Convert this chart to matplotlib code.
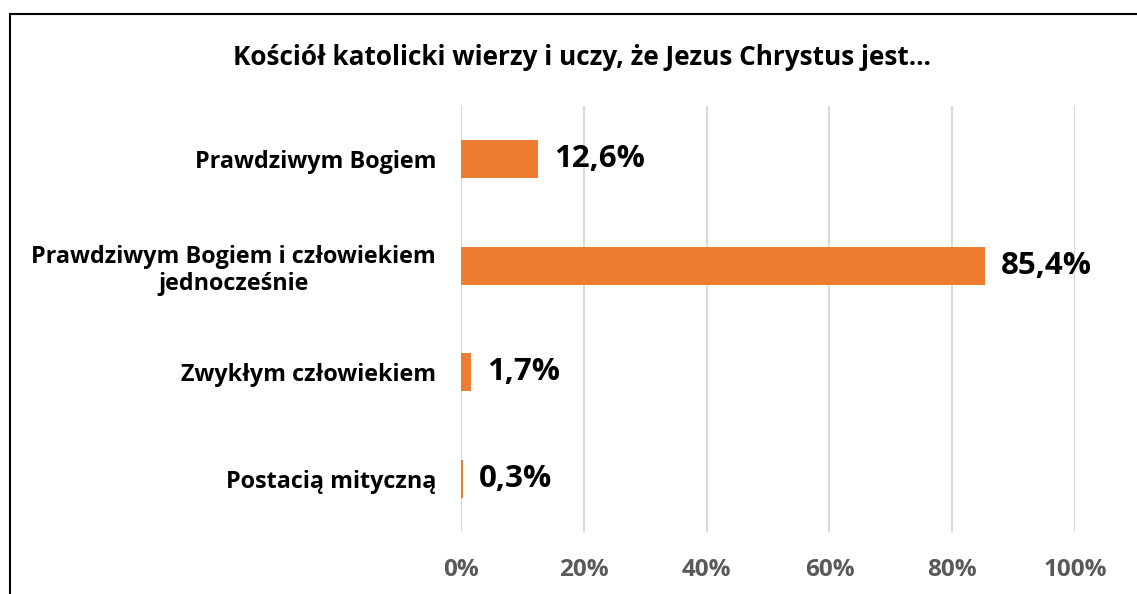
import matplotlib.pyplot as plt
from matplotlib.lines import Line2D

plt.rcParams['font.family'] = ['Open Sans', 'DejaVu Sans']

# data
categories = ['Prawdziwym Bogiem', 'Prawdziwym Bogiem i człowiekiem\njednocześnie',
              'Zwykłym człowiekiem', 'Postacią mityczną']
values = [12.6, 85.4, 1.7, 0.3]
xticks = [0, 20, 40, 60, 80, 100]
title = 'Kościół katolicki wierzy i uczy, że Jezus Chrystus jest…'

fig = plt.figure(figsize=(11.37, 5.94), dpi=100)
ax = fig.add_axes([0.4055, 0.1044, 0.540, 0.717])

y = list(range(len(categories)))
ax.barh(y, values, height=0.36, color='#ED7D31', zorder=3)
ax.set_ylim(len(categories) - 0.5, -0.5)
ax.set_xlim(0, 100)

for yi, v in zip(y, values):
    ax.text(v + 2.6, yi, f'{v:.1f}%'.replace('.', ','), va='center', ha='left',
            fontsize=22.5, fontweight='bold', color='black')

ax.set_yticks(y)
ax.set_yticklabels(categories, fontsize=16.8, fontweight='bold', ha='right',
                   multialignment='center', linespacing=1.15)
ax.tick_params(axis='y', length=0, pad=18)
ax.set_xticks(xticks)
ax.set_xticklabels([f'{t}%' for t in xticks], fontsize=17.5, fontweight='bold',
                   color='#595959')
ax.tick_params(axis='x', length=0, pad=19)
ax.grid(axis='x', color='#D9D9D9', linewidth=1.5, zorder=0)
for s in ax.spines.values():
    s.set_visible(False)

fig.text(0.512, 0.903, title, ha='center', va='center', fontsize=18.8,
         fontweight='bold', color='black')

# border of chart area
fig.add_artist(Line2D([10 / 1137, 1.0], [1 - 14 / 594] * 2, color='black', lw=1.5))
fig.add_artist(Line2D([10 / 1137] * 2, [0, 1 - 14 / 594], color='black', lw=1.5))

fig.savefig('out.png', dpi=100)
